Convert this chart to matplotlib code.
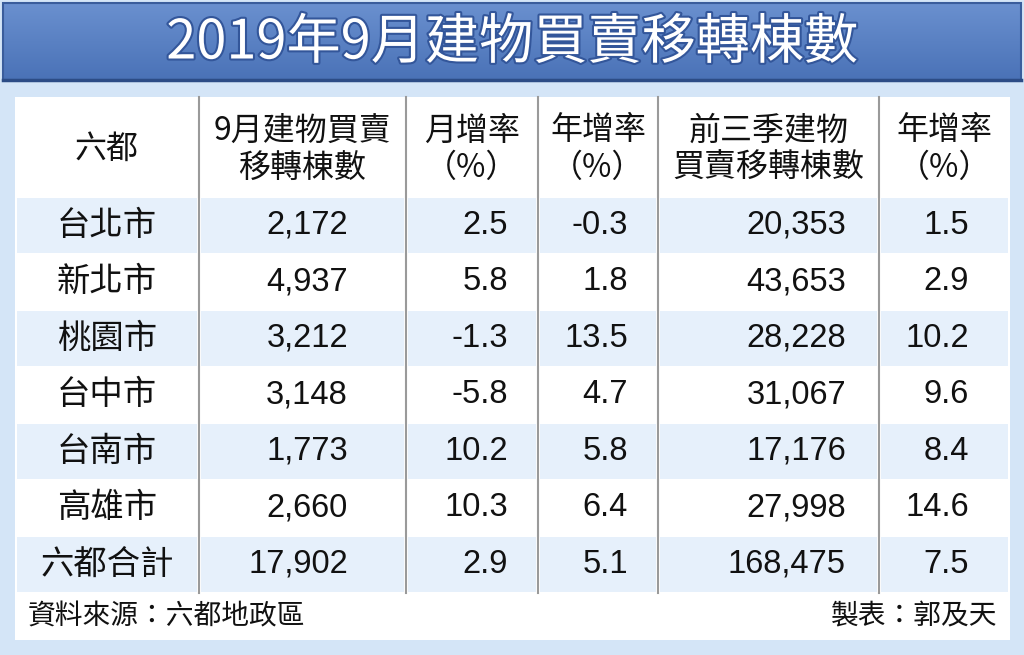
import matplotlib
matplotlib.use("Agg")
import matplotlib.pyplot as plt
import matplotlib.patheffects as pe
import numpy as np
from matplotlib.colors import LinearSegmentedColormap

plt.rcParams['font.family'] = ['Noto Sans CJK TC', 'DejaVu Sans']

# ---- data ----
title = "2019年9月建物買賣移轉棟數"
headers = ["六都", "9月建物買賣\n移轉棟數", "月增率\n(%)", "年增率\n(%)",
           "前三季建物\n買賣移轉棟數", "年增率\n(%)"]
cities = ["台北市", "新北市", "桃園市", "台中市", "台南市", "高雄市", "六都合計"]
sep_count = ["2,172", "4,937", "3,212", "3,148", "1,773", "2,660", "17,902"]
mom_rate = ["2.5", "5.8", "-1.3", "-5.8", "10.2", "10.3", "2.9"]
yoy_rate = ["-0.3", "1.8", "13.5", "4.7", "5.8", "6.4", "5.1"]
q3_count = ["20,353", "43,653", "28,228", "31,067", "17,176", "27,998", "168,475"]
q3_yoy = ["1.5", "2.9", "10.2", "9.6", "8.4", "14.6", "7.5"]
source = "資料來源：六都地政區"
maker = "製表：郭及天"

# ---- layout (pixel space) ----
W, H = 1024, 655
bg = "#d4e5f7"
band = "#e6f0fb"
col_edges = [15, 199, 406, 538, 658, 879, 1010]
num_right = [None, 348, 508, 628, 846, 969]
head_top, head_bot = 97, 197
row_h = 56.5
foot_bot = 640

fig = plt.figure(figsize=(W / 100, H / 100), dpi=100)
fig.patch.set_facecolor(bg)
ax = fig.add_axes([0, 0, 1, 1])
ax.set_xlim(0, W)
ax.set_ylim(H, 0)
ax.axis("off")

# title band with gradient
cmap = LinearSegmentedColormap.from_list("tb", ["#6a90cf", "#4a72b7"])
grad = np.linspace(0, 1, 100).reshape(-1, 1)
ax.imshow(grad, cmap=cmap, extent=[3, 1021, 80, 3], aspect="auto", zorder=1)
ax.add_patch(plt.Rectangle((3, 3), 1018, 77, fill=False, ec="#3a5d9c", lw=1.5, zorder=2))
ax.plot([3, 1021], [80, 80], color="#2c4c86", lw=2.5, zorder=2)
ax.text(W / 2, 43, title, ha="center", va="center", fontsize=39, fontweight="medium",
        color="white", zorder=3,
        path_effects=[pe.withStroke(linewidth=3, foreground="#33569a")])

# white table panel
ax.add_patch(plt.Rectangle((col_edges[0], head_top), col_edges[-1] - col_edges[0],
                           foot_bot - head_top, fc="white", ec="none", zorder=1))

# banded rows
n_rows = len(cities)
for i in range(n_rows):
    top = head_bot + i * row_h
    if i % 2 == 0:
        for c in range(len(col_edges) - 1):
            ax.add_patch(plt.Rectangle((col_edges[c] + 2, top + 1),
                                       col_edges[c + 1] - col_edges[c] - 4, row_h - 2,
                                       fc=band, ec="none", zorder=1.5))

table_bot = head_bot + n_rows * row_h
for x in col_edges[1:-1]:
    ax.plot([x, x], [head_top, table_bot], color="#9a9a9a", lw=1.5, zorder=2)

# header text
for c, h in enumerate(headers):
    cx = (col_edges[c] + col_edges[c + 1]) / 2
    ax.text(cx, (head_top + head_bot) / 2 + 2, h.replace("(%)", "（%）"),
            ha="center", va="center", fontsize=23, color="#111111",
            linespacing=1.2, zorder=3)

# body
columns = [sep_count, mom_rate, yoy_rate, q3_count, q3_yoy]
for i, city in enumerate(cities):
    cy = head_bot + (i + 0.5) * row_h
    ax.text((col_edges[0] + col_edges[1]) / 2, cy, city, ha="center", va="center",
            fontsize=24, color="#111111", zorder=3)
    for j, vals in enumerate(columns):
        ax.text(num_right[j + 1], cy, vals[i], ha="right", va="center",
                fontsize=23.5, family=["Liberation Sans", "DejaVu Sans"],
                color="#111111", zorder=3)

# footer
fy = (table_bot + foot_bot) / 2
ax.text(28, fy, source, ha="left", va="center", fontsize=20, color="#111111", zorder=3)
ax.text(997, fy, maker, ha="right", va="center", fontsize=20, color="#111111", zorder=3)

fig.savefig("out.png", dpi=100, facecolor=bg)
